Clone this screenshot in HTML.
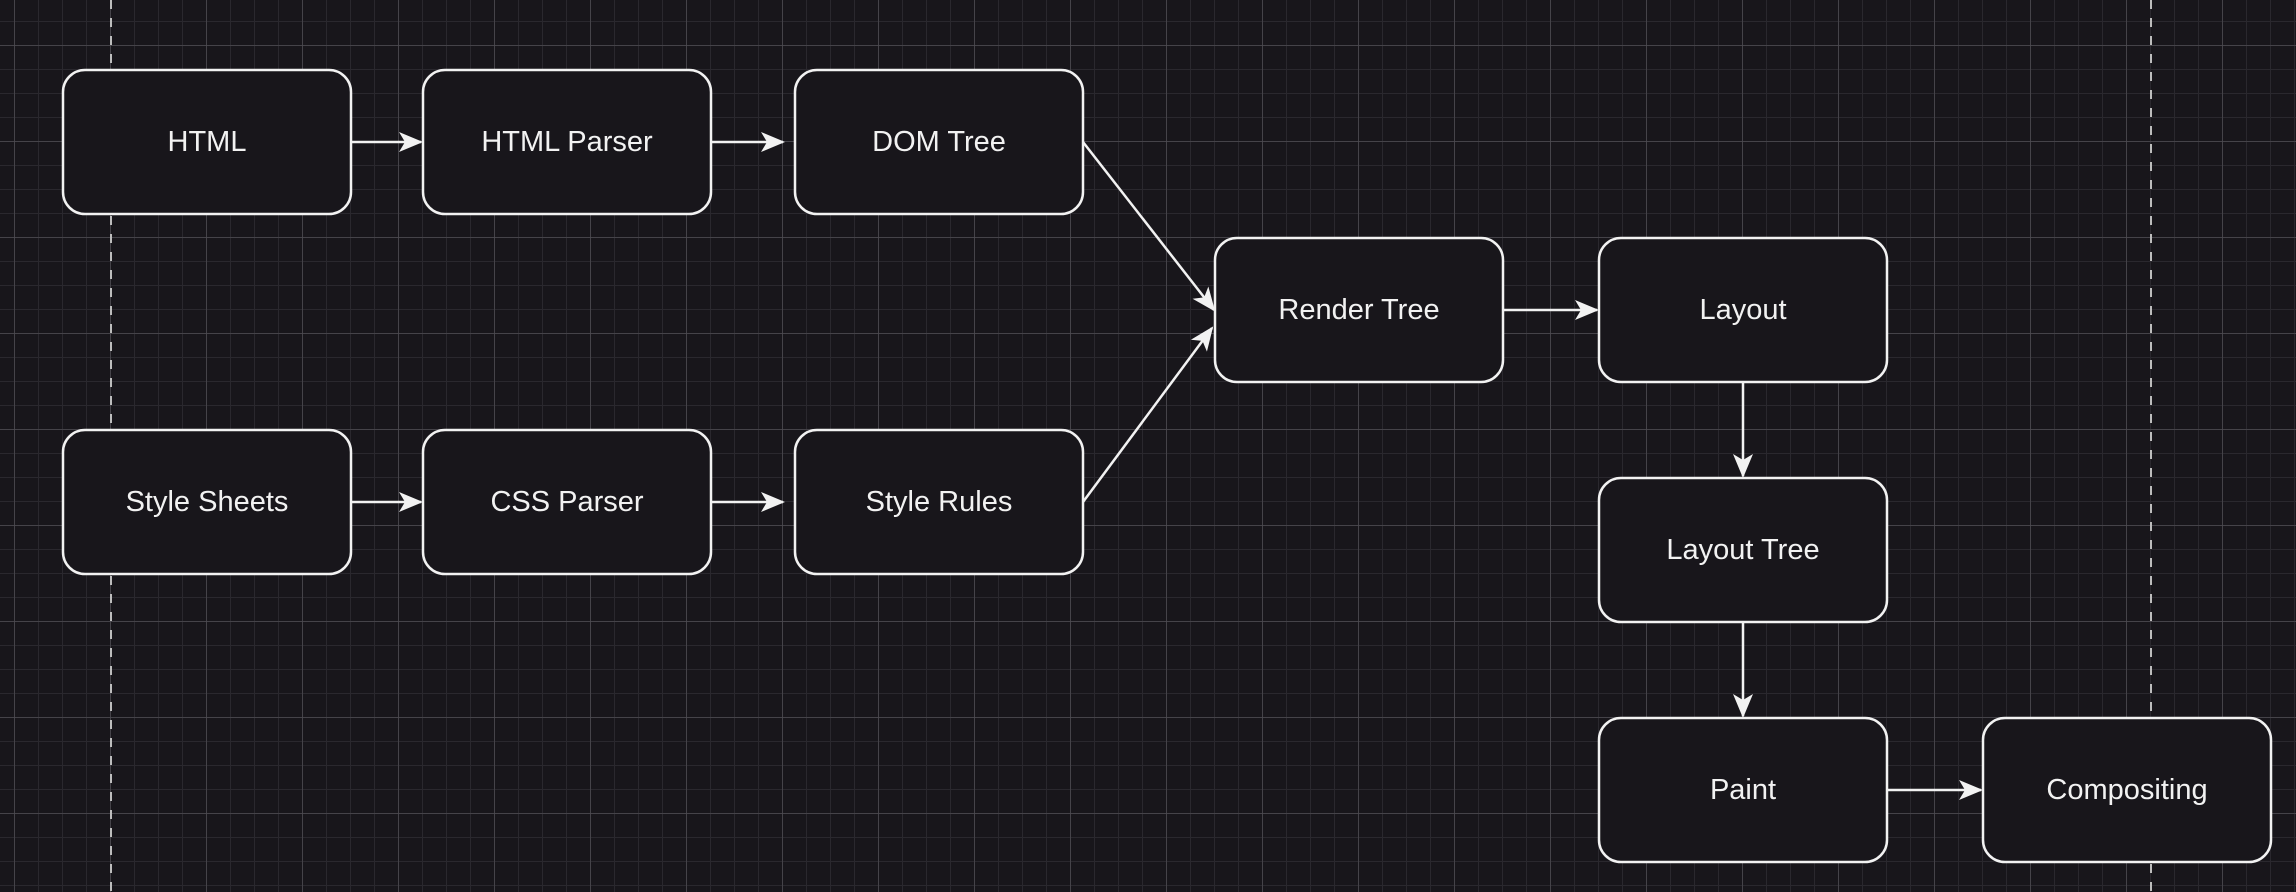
<!DOCTYPE html>
<html><head><meta charset="utf-8"><style>
html,body{margin:0;padding:0;background:#18161b;}
svg{display:block}
text{font-family:"Liberation Sans",Arial,sans-serif;font-size:29px;fill:#f2f2f2;text-anchor:middle;dominant-baseline:central}
</style></head><body>
<svg width="2296" height="892" viewBox="0 0 2296 892" xmlns="http://www.w3.org/2000/svg">
<defs>
<pattern id="minor" x="14" y="21" width="24" height="24" patternUnits="userSpaceOnUse">
<path d="M0 0V24M0 0H24" stroke="#2a282e" stroke-width="2" fill="none"/>
</pattern>
<pattern id="major" x="14" y="45" width="96" height="96" patternUnits="userSpaceOnUse">
<path d="M0 0V96M0 0H96" stroke="#4e4c52" stroke-width="1.5" fill="none"/>
</pattern>
<marker id="arr" viewBox="0 0 24 24" refX="22" refY="12" markerWidth="24" markerHeight="24" markerUnits="userSpaceOnUse" orient="auto">
<path d="M0 2 L24 12 L0 22 L6 12 Z" fill="#f2f2f2"/>
</marker>
</defs>
<rect width="2296" height="892" fill="#18161b"/>
<rect width="2296" height="892" fill="url(#minor)"/>
<rect width="2296" height="892" fill="url(#major)"/>
<line x1="111" y1="0" x2="111" y2="892" stroke="#bdbdbd" stroke-width="2" stroke-dasharray="9 9"/>
<line x1="2151" y1="0" x2="2151" y2="892" stroke="#bdbdbd" stroke-width="2" stroke-dasharray="9 9"/>
<g fill="#18161b" stroke="#f2f2f2" stroke-width="2.5">
<rect x="63" y="70" width="288" height="144" rx="22"/>
<rect x="423" y="70" width="288" height="144" rx="22"/>
<rect x="795" y="70" width="288" height="144" rx="22"/>
<rect x="63" y="430" width="288" height="144" rx="22"/>
<rect x="423" y="430" width="288" height="144" rx="22"/>
<rect x="795" y="430" width="288" height="144" rx="22"/>
<rect x="1215" y="238" width="288" height="144" rx="22"/>
<rect x="1599" y="238" width="288" height="144" rx="22"/>
<rect x="1599" y="478" width="288" height="144" rx="22"/>
<rect x="1599" y="718" width="288" height="144" rx="22"/>
<rect x="1983" y="718" width="288" height="144" rx="22"/>
</g>
<g stroke="#f2f2f2" stroke-width="2.5" fill="none" marker-end="url(#arr)">
<line x1="351" y1="142" x2="421" y2="142"/>
<line x1="711" y1="142" x2="783" y2="142"/>
<line x1="351" y1="502" x2="421" y2="502"/>
<line x1="711" y1="502" x2="783" y2="502"/>
<line x1="1083" y1="142" x2="1214" y2="310"/>
<line x1="1083" y1="502" x2="1212" y2="328"/>
<line x1="1503" y1="310" x2="1597" y2="310"/>
<line x1="1743" y1="382" x2="1743" y2="476"/>
<line x1="1743" y1="622" x2="1743" y2="716"/>
<line x1="1887" y1="790" x2="1981" y2="790"/>
</g>
<text x="207" y="142">HTML</text>
<text x="567" y="142">HTML Parser</text>
<text x="939" y="142">DOM Tree</text>
<text x="207" y="502">Style Sheets</text>
<text x="567" y="502">CSS Parser</text>
<text x="939" y="502">Style Rules</text>
<text x="1359" y="310">Render Tree</text>
<text x="1743" y="310">Layout</text>
<text x="1743" y="550">Layout Tree</text>
<text x="1743" y="790">Paint</text>
<text x="2127" y="790">Compositing</text>
</svg>
</body></html>
